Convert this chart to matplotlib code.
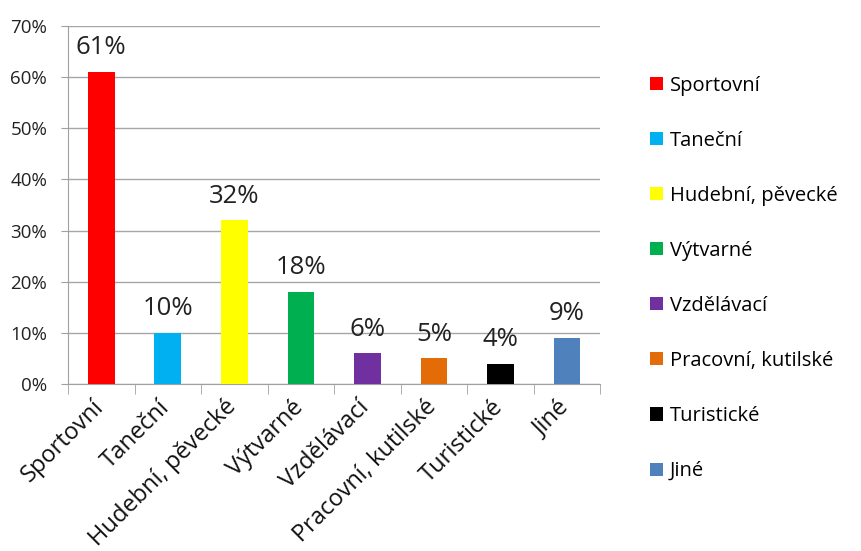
import matplotlib
matplotlib.use("Agg")
import matplotlib.pyplot as plt
from matplotlib.patches import Patch
from matplotlib.ticker import FixedLocator, PercentFormatter
from matplotlib.transforms import ScaledTranslation

categories = ["Sportovní", "Taneční", "Hudební, pěvecké", "Výtvarné",
              "Vzdělávací", "Pracovní, kutilské", "Turistické", "Jiné"]
values = [61, 10, 32, 18, 6, 5, 4, 9]
colors = ["#ff0000", "#00b0f0", "#ffff00", "#00b050",
          "#7030a0", "#e36c09", "#000000", "#4f81bd"]
y_ticks = [0, 10, 20, 30, 40, 50, 60, 70]

plt.rcParams['font.family'] = ['Open Sans', 'DejaVu Sans']

fig = plt.figure(figsize=(8.61, 5.51), dpi=100)
ax = fig.add_axes([0.079, 0.303, 0.618, 0.65])

x = list(range(len(categories)))
bars = ax.bar(x, values, width=0.4, color=colors, zorder=3)
for xi, v in zip(x, values):
    ax.text(xi, v + 2.3, f"{v}%", ha='center', va='bottom', fontsize=18.5, color='#222222')

ax.set_xlim(-0.5, len(categories) - 0.5)
ax.set_ylim(0, 70)
ax.set_yticks(y_ticks)
ax.yaxis.set_major_formatter(PercentFormatter(decimals=0))
ax.tick_params(axis='y', labelsize=13.5, length=5, color='#a0a0a0', labelcolor='#222222', pad=10)
ax.grid(axis='y', color='#a6a6a6', linewidth=1, zorder=0)

ax.set_xticks(x)
ax.set_xticklabels(categories, rotation=45, ha='right', rotation_mode='anchor',
                   fontsize=17, color='#111111')
ax.tick_params(axis='x', length=0, pad=8)
off = ScaledTranslation(-7 / 72, 0 / 72, fig.dpi_scale_trans)
for lab in ax.get_xticklabels():
    lab.set_transform(lab.get_transform() + off)
ax.xaxis.set_minor_locator(FixedLocator([i - 0.5 for i in range(len(categories) + 1)]))
ax.tick_params(axis='x', which='minor', length=7, color='#a0a0a0')

for s in ['top', 'right']:
    ax.spines[s].set_visible(False)
for s in ['left', 'bottom']:
    ax.spines[s].set_color('#a0a0a0')

handles = [Patch(facecolor=c, label=l) for c, l in zip(colors, categories)]
fig.legend(handles=handles, loc='upper left', bbox_to_anchor=(0.746, 0.877),
           frameon=False, fontsize=14.5, handlelength=0.62, handleheight=0.62,
           handletextpad=0.35, labelspacing=1.74, borderaxespad=0)

fig.savefig("out.png", dpi=100)
